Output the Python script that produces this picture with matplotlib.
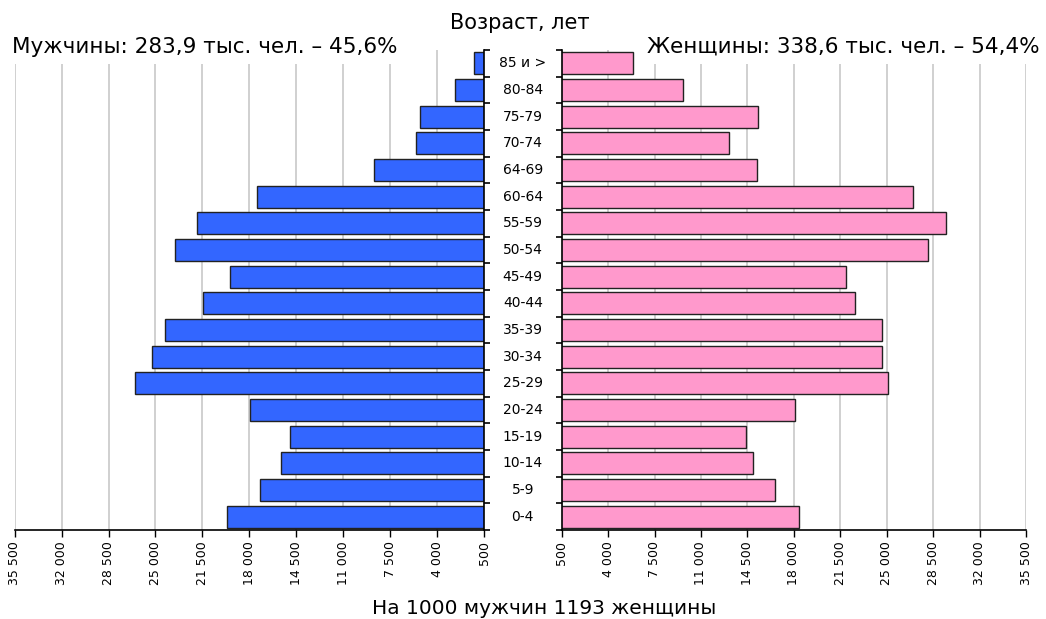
import matplotlib
matplotlib.use("Agg")
import matplotlib.pyplot as plt
import matplotlib.transforms as mtransforms
from matplotlib.ticker import FixedLocator, FuncFormatter
import numpy as np

plt.rcParams["font.family"] = ["DejaVu Sans"]

AGE_GROUPS = ["0-4", "5-9", "10-14", "15-19", "20-24", "25-29", "30-34", "35-39",
              "40-44", "45-49", "50-54", "55-59", "60-64", "64-69", "70-74",
              "75-79", "80-84", "85 и >"]
MEN = [19660, 17230, 15640, 14940, 17930, 26550, 25280, 24290,
       21430, 19460, 23520, 21900, 17400, 8730, 5590, 5300, 2640, 1270]
WOMEN = [18410, 16600, 14920, 14420, 18110, 25070, 24670, 24670,
         22590, 21950, 28130, 29490, 26960, 15240, 13130, 15320, 9670, 5850]
X_TICKS = [500, 4000, 7500, 11000, 14500, 18000, 21500, 25000, 28500, 32000, 35500]

MEN_COLOR = "#3366ff"
WOMEN_COLOR = "#ff99cc"
GRID_COLOR = "#c8c8c8"


def thousands(v, _pos=None):
    return f"{v:,.0f}".replace(",", " ")


def style_axis(ax, side):
    y = np.arange(len(AGE_GROUPS))
    ax.set_ylim(-0.5, len(AGE_GROUPS) - 0.5)
    ax.set_xlim(*((35500, 500) if side == "left" else (500, 35500)))
    ax.xaxis.set_major_locator(FixedLocator(X_TICKS))
    ax.xaxis.set_major_formatter(FuncFormatter(thousands))
    ax.tick_params(axis="x", direction="out", length=5, width=1, labelsize=9,
                   labelrotation=90, pad=3, color="black")
    ax.grid(axis="x", color=GRID_COLOR, linewidth=1.2)
    ax.set_axisbelow(True)
    for s in ["top", "left", "right"]:
        ax.spines[s].set_visible(False)
    ax.spines["bottom"].set_linewidth(1.2)
    keep = "right" if side == "left" else "left"
    ax.spines[keep].set_visible(True)
    ax.spines[keep].set_linewidth(1.2)
    ax.yaxis.set_ticks_position(keep)
    ax.set_yticks(y)
    ax.set_yticklabels([])
    ax.set_yticks(np.arange(-0.5, len(AGE_GROUPS) + 0.5, 1.0), minor=True)
    ax.tick_params(axis="y", which="major", length=0)
    ax.tick_params(axis="y", which="minor", direction="out", length=4.5, width=1.2)


fig = plt.figure(figsize=(10.46, 6.19), dpi=100)
ax_l = fig.add_axes([0.01405, 0.1438, 0.4487, 0.7754])
ax_r = fig.add_axes([0.5370, 0.1438, 0.4439, 0.7754])

y = np.arange(len(AGE_GROUPS))
ax_l.barh(y, MEN, height=0.83, color=MEN_COLOR, edgecolor="#222222", linewidth=1.0, zorder=2)
ax_r.barh(y, WOMEN, height=0.83, color=WOMEN_COLOR, edgecolor="#222222", linewidth=1.0, zorder=2)
style_axis(ax_l, "left")
style_axis(ax_r, "right")

# age labels centred between the two halves
trans = mtransforms.blended_transform_factory(fig.transFigure, ax_r.transData)
for i, label in enumerate(AGE_GROUPS):
    fig.text(0.4998, i, label, transform=trans, ha="center", va="center", fontsize=10)

box = dict(facecolor="white", edgecolor="none", boxstyle="square,pad=0.35")
fig.text(0.4965, 0.963, "Возраст, лет", ha="center", va="center", fontsize=15)
fig.text(0.011, 0.9245, "Мужчины: 283,9 тыс. чел. – 45,6%", ha="left", va="center",
         fontsize=15.5, bbox=box)
fig.text(0.994, 0.9245, "Женщины: 338,6 тыс. чел. – 54,4%", ha="right", va="center",
         fontsize=15.5, bbox=box)
fig.text(0.520, 0.017, "На 1000 мужчин 1193 женщины", ha="center", va="center", fontsize=14.5)

fig.savefig("out.png", dpi=100, facecolor="white")
